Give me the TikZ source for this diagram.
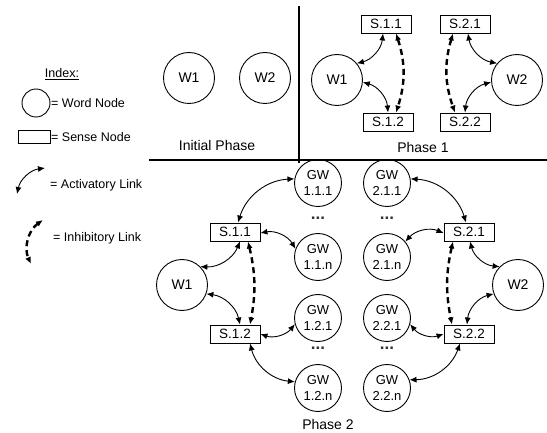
\documentclass[tikz,border=0pt]{standalone}
\usepackage{fontspec}
\setmainfont{Liberation Sans}
\usetikzlibrary{arrows.meta}
\begin{document}
\begin{tikzpicture}[x=1pt,y=-1pt,
  word/.style={circle,draw,line width=0.9pt,minimum size=51pt,inner sep=0pt,font=\fontsize{14}{16}\selectfont},
  gw/.style={circle,draw,line width=0.9pt,minimum size=47pt,inner sep=0pt,align=center,font=\fontsize{13}{15.5}\selectfont},
  sense/.style={rectangle,draw,line width=0.9pt,minimum width=50pt,minimum height=18pt,inner sep=0pt,font=\fontsize{13.5}{15}\selectfont},
  act/.style={line width=0.9pt,{Latex[length=7pt,width=6pt]}-{Latex[length=7pt,width=6pt]}},
  inh/.style={line width=2.4pt,dash pattern=on 6pt off 4pt,{Latex[length=7pt,width=6pt]}-{Latex[length=7pt,width=6pt]}},
  lbl/.style={font=\fontsize{14}{16}\selectfont},
  dotsl/.style={font=\fontsize{17}{18}\selectfont\bfseries,text=black!80},
  leg/.style={font=\fontsize{12.5}{15}\selectfont,anchor=west,inner sep=0pt}]
\useasboundingbox (0,0) rectangle (547,433);

% separators
\draw[line width=1.2pt] (149,160) -- (547,160);
\draw[line width=1.2pt] (299,6) -- (299,163);

% legend
\node[font=\fontsize{12.5}{15}\selectfont] (idx) at (62,74) {\underline{Index:}};
\node[circle,draw,line width=0.9pt,minimum size=28pt,inner sep=0pt] (lc) at (36,103) {};
\node[leg] (lct) at (51,103) {= Word Node};
\node[rectangle,draw,line width=0.9pt,minimum width=32pt,minimum height=13pt,inner sep=0pt] (lr) at (34,137) {};
\node[leg] (lrt) at (51,137) {= Sense Node};
\coordinate (la1) at (17,194);
\coordinate (la2) at (45,168);
\draw[act] (la1) to[bend left=35] (la2);
\node[leg] (lat) at (50,185) {= Activatory Link};
\coordinate (li1) at (43,220);
\coordinate (li2) at (31,264);
\draw[inh] (li1) to[bend right=40] (li2);
\node[leg] (lit) at (53,238) {= Inhibitory Link};

% initial phase
\node[word] (iw1) at (189,78) {W1};
\node[word] (iw2) at (265,78) {W2};
\node[lbl] (ip) at (217,145) {Initial Phase};

% phase 1
\node[word] (aw1) at (337,80) {W1};
\node[word] (aw2) at (517,80) {W2};
\node[sense] (as11) at (386,24) {S.1.1};
\node[sense] (as21) at (465,24) {S.2.1};
\node[sense] (as12) at (388,122) {S.1.2};
\node[sense] (as22) at (465,122) {S.2.2};
\node[lbl] (p1) at (423,147) {Phase 1};
\draw[act] (aw1.40) to[bend right=35] ([xshift=-3pt]as11.south);
\draw[act] (aw1.-5) to[bend left=35] (as12.north);
\draw[inh] ([xshift=10pt]as11.south) to[bend left=18] ([xshift=8pt]as12.north);
\draw[act] ([xshift=3pt]as21.south) to[bend right=35] (aw2.140);
\draw[act] (aw2.185) to[bend right=35] (as22.north);
\draw[inh] ([xshift=-12pt]as21.south) to[bend right=18] ([xshift=-10pt]as22.north);

% phase 2
\node[word] (bw1) at (182,285) {W1};
\node[word] (bw2) at (518,285) {W2};
\node[sense] (s11) at (235,232) {S.1.1};
\node[sense] (s12) at (235,334) {S.1.2};
\node[sense] (s21) at (469,232) {S.2.1};
\node[sense] (s22) at (469,334) {S.2.2};
\node[gw] (g111) at (318,183) {GW\\1.1.1};
\node[gw] (g11n) at (318,257) {GW\\1.1.n};
\node[gw] (g121) at (318,318) {GW\\1.2.1};
\node[gw] (g12n) at (318,388) {GW\\1.2.n};
\node[gw] (g211) at (387,183) {GW\\2.1.1};
\node[gw] (g21n) at (387,257) {GW\\2.1.n};
\node[gw] (g221) at (387,318) {GW\\2.2.1};
\node[gw] (g22n) at (387,388) {GW\\2.2.n};
\node[dotsl] (d1) at (318,218) {...};
\node[dotsl] (d2) at (387,218) {...};
\node[dotsl] (d3) at (318,348) {...};
\node[dotsl] (d4) at (387,348) {...};
\node[lbl] (p2) at (328,424) {Phase 2};

\draw[act] ([xshift=3pt]s11.north) to[bend left=35] (g111.170);
\draw[act] ([yshift=-1pt]s11.east) to[bend left=35] (g11n.160);
\draw[act] (bw1.45) to[bend right=35] ([xshift=5pt]s11.south);
\draw[act] (bw1.-20) to[bend left=35] ([xshift=5pt]s12.north);
\draw[inh] ([xshift=13pt]s11.south) to[bend left=12] ([xshift=15pt]s12.north);
\draw[act] (s12.east) to[bend right=35] (g121.195);
\draw[act] ([xshift=15pt]s12.south) to[bend right=35] (g12n.165);

\draw[act] ([xshift=-3pt]s21.north) to[bend right=35] (g211.10);
\draw[act] ([yshift=-1pt]s21.west) to[bend right=35] (g21n.40);
\draw[act] ([xshift=1pt]s21.south) to[bend right=35] (bw2.135);
\draw[act] (bw2.200) to[bend right=35] ([xshift=-2pt]s22.north);
\draw[inh] ([xshift=-16pt]s21.south) to[bend right=12] ([xshift=-17pt]s22.north);
\draw[act] (s22.west) to[bend left=35] (g221.-15);
\draw[act] ([xshift=-9pt]s22.south) to[bend left=35] (g22n.20);
\end{tikzpicture}
\end{document}
